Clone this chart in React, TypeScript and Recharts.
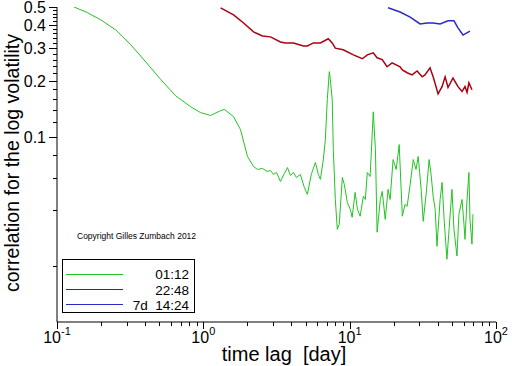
import React from "react";
import { LineChart, Line, XAxis, YAxis } from "recharts";

// time lag [day] and correlation values
const greenLag = [
  0.1306, 0.158, 0.1995, 0.252, 0.319, 0.404, 0.512, 0.647, 0.818, 0.959,
  1.122, 1.312, 1.397, 1.609, 1.795, 2.004, 2.203, 2.345, 2.537, 2.742,
  2.877, 3.013, 3.162, 3.365, 3.581, 3.757, 3.936, 4.13, 4.325, 4.6,
  4.9, 5.14, 5.47, 5.83, 6.11, 6.31, 6.61, 6.82, 7.03, 7.26,
  7.38, 7.6, 7.73, 7.98, 8.23, 8.49, 8.91, 9.19, 9.64, 10.1,
  10.4, 10.9, 11.3, 11.8, 12.4, 12.8, 13.2, 13.8, 14.5, 15.0,
  15.4, 16.2, 16.7, 17.5, 18.3, 18.9, 19.8, 20.8, 21.8, 22.9,
  23.9, 24.7, 25.9, 27.2, 28.4, 29.4, 30.8, 31.8, 33.3, 34.9,
  36.0, 37.2, 38.4, 39.5, 41.5, 42.8, 44.2, 46.2, 47.8, 50.0,
  51.6, 54.1, 55.8, 58.6, 60.4, 61.4, 63.4, 65.3, 66.4, 68.5, 69.6,
];
const greenCorr = [
  0.5, 0.47, 0.426, 0.376, 0.313, 0.253, 0.203, 0.166, 0.145, 0.1346,
  0.13, 0.138, 0.14, 0.128, 0.109, 0.0781, 0.069, 0.0665, 0.0673, 0.0648,
  0.0657, 0.0625, 0.0641, 0.0573, 0.0633, 0.0681, 0.0617, 0.0641, 0.0602, 0.0625,
  0.0532, 0.0488, 0.0625, 0.0725, 0.0625, 0.0588, 0.0752, 0.0964, 0.158, 0.224,
  0.203, 0.158, 0.0851, 0.0458, 0.0316, 0.0337, 0.0602, 0.0552, 0.0442, 0.0405,
  0.0367, 0.05, 0.0405, 0.0372, 0.0477, 0.0458, 0.064, 0.0609, 0.136, 0.0851,
  0.0305, 0.0458, 0.0506, 0.0358, 0.0519, 0.0458, 0.0752, 0.0665, 0.0906, 0.0372,
  0.0431, 0.042, 0.0552, 0.0752, 0.0665, 0.0781, 0.0519, 0.0349, 0.0488, 0.0752,
  0.0625, 0.0477, 0.0405, 0.0256, 0.0458, 0.0566, 0.0358, 0.0218, 0.0316, 0.0519,
  0.0316, 0.0227, 0.0381, 0.0458, 0.0337, 0.0279, 0.0458, 0.064, 0.0358, 0.0263, 0.0381,
];

const redLag = [
  1.312, 1.609, 1.884, 2.203, 2.537, 2.877, 3.365, 3.64, 4.13, 4.83,
  5.14, 5.65, 6.31, 7.14, 7.6, 7.98, 9.04, 10.6, 12.2, 13.2,
  14.5, 15.4, 16.7, 18.0, 19.5, 22.1, 22.9, 24.7, 26.7, 28.9,
  31.3, 32.7, 35.4, 37.2, 40.2, 42.8, 44.9, 47.0, 50.8, 55.0,
  58.6, 61.4, 63.4, 65.3, 68.5,
];
const redCorr = [
  0.495, 0.453, 0.41, 0.367, 0.349, 0.345, 0.324, 0.32, 0.32, 0.308,
  0.308, 0.32, 0.32, 0.337, 0.32, 0.3, 0.294, 0.276, 0.263, 0.276,
  0.283, 0.266, 0.26, 0.238, 0.25, 0.238, 0.229, 0.221, 0.215, 0.226,
  0.21, 0.215, 0.235, 0.21, 0.17, 0.186, 0.21, 0.184, 0.207, 0.186,
  0.175, 0.186, 0.173, 0.195, 0.179,
];

const blueLag = [18.3, 22.1, 25.9, 30.3, 33.8, 37.2, 41.5, 47.0, 51.6, 55.0, 59.5, 66.4];
const blueCorr = [0.495, 0.47, 0.441, 0.405, 0.41, 0.41, 0.405, 0.421, 0.421, 0.386, 0.353, 0.371];

const seriesNames = ["01:12", "22:48", "7d  14:24"];
const seriesColors = ["#22c422", "#aa0010", "#2a2ac4"];

const xTicks = [
  0.1, 0.2, 0.3, 0.4, 0.5, 0.6, 0.7, 0.8, 0.9,
  1, 2, 3, 4, 5, 6, 7, 8, 9,
  10, 20, 30, 40, 50, 60, 70, 80, 90, 100,
];
const xMajor = [0.1, 1, 10, 100];
const xMajorExp = ["-1", "0", "1", "2"];

const yTicks = [
  0.02, 0.04, 0.06, 0.08, 0.1, 0.12, 0.14, 0.16, 0.18, 0.2, 0.22, 0.24, 0.26, 0.28,
  0.3, 0.32, 0.34, 0.36, 0.38, 0.4, 0.42, 0.44, 0.46, 0.48, 0.5,
];
const yLabeled = [0.1, 0.2, 0.3, 0.4, 0.5];

const zip = (xs: number[], ys: number[]) => xs.map((x, i) => ({ x, y: ys[i] }));
const greenData = zip(greenLag, greenCorr);
const redData = zip(redLag, redCorr);
const blueData = zip(blueLag, blueCorr);

const FONT = "'Liberation Sans', Arial, Helvetica, sans-serif";

const XTick = (props: any) => {
  const { x, y, payload } = props;
  const v = payload.value;
  const idx = xMajor.findIndex((m) => Math.abs(m - v) < 1e-9);
  const major = idx >= 0;
  const px = Math.round(x) + 0.5;
  return (
    <g>
      <line x1={px} x2={px} y1={y} y2={y + (major ? 7 : 4)} stroke="#000" strokeWidth={1.2} shapeRendering="crispEdges" />
      {major && (
        <text x={x} y={y + 21} textAnchor="middle" fontSize={16} fontFamily={FONT} fill="#000">
          <tspan>10</tspan>
          <tspan dy={-8} fontSize={11}>{xMajorExp[idx]}</tspan>
        </text>
      )}
    </g>
  );
};

const YTick = (props: any) => {
  const { x, y, payload } = props;
  const v = payload.value;
  const major = yLabeled.some((m) => Math.abs(m - v) < 1e-9);
  const len = major ? 8 : 4;
  const py = Math.round(y) + 0.5;
  return (
    <g>
      <line x1={x - len} x2={x} y1={py} y2={py} stroke="#000" strokeWidth={1.2} shapeRendering="crispEdges" />
      {major && (
        <text x={x - 11} y={y + 6} textAnchor="end" fontSize={16} fontFamily={FONT} fill="#000">
          {String(v)}
        </text>
      )}
    </g>
  );
};

export default function App() {
  return (
    <div style={{ position: "absolute", left: 0, top: 0, width: 512, height: 366, background: "#fff" }}>
      <svg
        width={512}
        height={366}
        style={{ position: "absolute", left: 0, top: 0 }}
      >
        <text
          transform="translate(19,163) rotate(-90)"
          textAnchor="middle"
          fontSize={19.5}
          fontFamily={FONT}
          fill="#000"
        >
          correlation for the log volatility
        </text>
        <text x={284} y={361} textAnchor="middle" fontSize={20} fontFamily={FONT} fill="#000" style={{ whiteSpace: "pre" }}>
          time lag  [day]
        </text>
        <text x={77} y={239} fontSize={8.5} fontFamily={FONT} fill="#000">
          Copyright Gilles Zumbach 2012
        </text>
        <rect x={62.5} y={259.5} width={132} height={53} fill="#fff" stroke="#000" strokeWidth={1} />
        {seriesNames.map((name, i) => (
          <g key={name}>
            <line x1={66} x2={123} y1={274.5 + i * 15} y2={274.5 + i * 15} stroke={seriesColors[i]} strokeWidth={1} />
            <text
              x={189}
              y={279 + i * 15.5}
              textAnchor="end"
              fontSize={13.5}
              fontFamily={FONT}
              fill="#000"
              style={{ whiteSpace: "pre" }}
            >
              {name}
            </text>
          </g>
        ))}
      </svg>
      <div style={{ position: "absolute", left: 0, top: 0 }}>
        <LineChart
          width={512}
          height={366}
          margin={{ top: 7, right: 16, bottom: 0, left: 0 }}
        >
          <XAxis
            dataKey="x"
            type="number"
            scale="log"
            domain={[0.1, 100]}
            ticks={xTicks}
            interval={0}
            allowDataOverflow
            height={44}
            tickSize={0}
            tickMargin={0}
            tickLine={false}
            axisLine={{ stroke: "#000", strokeWidth: 1 }}
            tick={<XTick />}
          />
          <YAxis
            type="number"
            scale="log"
            domain={[0.01, 0.5]}
            ticks={yTicks}
            interval={0}
            allowDataOverflow
            width={57}
            tickSize={0}
            tickMargin={0}
            tickLine={false}
            axisLine={{ stroke: "#000", strokeWidth: 1 }}
            tick={<YTick />}
          />
          <Line data={greenData} dataKey="y" type="linear" stroke={seriesColors[0]} strokeWidth={1} dot={false} isAnimationActive={false} />
          <Line data={redData} dataKey="y" type="linear" stroke={seriesColors[1]} strokeWidth={1.5} dot={false} isAnimationActive={false} />
          <Line data={blueData} dataKey="y" type="linear" stroke={seriesColors[2]} strokeWidth={1.5} dot={false} isAnimationActive={false} />
        </LineChart>
      </div>
    </div>
  );
}
